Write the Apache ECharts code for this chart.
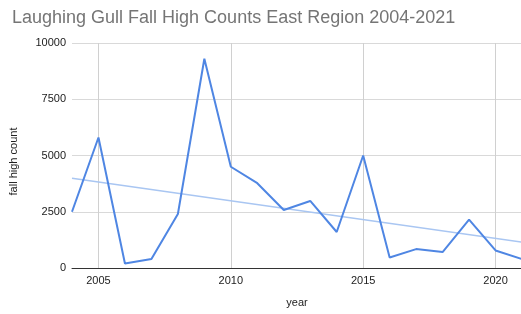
<!DOCTYPE html>
<html><head><meta charset="utf-8">
<script src="https://cdn.jsdelivr.net/npm/echarts@6/dist/echarts.min.js"></script>
<style>html,body{margin:0;padding:0;background:#fff}#c{width:521px;height:314px}</style>
</head><body><div id="c"></div>
<script>
const years = ['2004','2005','2006','2007','2008','2009','2010','2011','2012','2013','2014','2015','2016','2017','2018','2019','2020','2021'];
const highCounts = [2500,5800,200,400,2400,9300,4500,3770,2580,2980,1600,5000,470,840,710,2150,780,400];
const trendEnds = [3990,1150];
const yTicks = [0,2500,5000,7500,10000];
const labeledYears = ['2005','2010','2015','2020'];

const trendData = years.map((y,i)=> (i===0 ? trendEnds[0] : (i===years.length-1 ? trendEnds[1] : '-')));

const chart = echarts.init(document.getElementById('c'));
const font = 'Arial, "Liberation Sans", sans-serif';
chart.setOption({
  animation:false,
  textStyle:{fontFamily:font},
  title:{text:'Laughing Gull Fall High Counts East Region 2004-2021',left:7,top:4,
    textStyle:{fontSize:18,fontWeight:'normal',color:'#757575',fontFamily:font}},
  grid:{left:72,right:-1,top:43,bottom:46,containLabel:false,outerBoundsMode:'none'},
  xAxis:{type:'category',data:years,boundaryGap:false,
    name:'year',nameLocation:'middle',nameGap:29,
    nameTextStyle:{fontSize:11,color:'#222'},
    axisLine:{lineStyle:{color:'#333',width:1}},
    axisTick:{show:false},
    axisLabel:{interval:(i,v)=>labeledYears.includes(v),color:'#222',fontSize:11,margin:7},
    splitLine:{show:true,interval:(i,v)=>labeledYears.includes(v),lineStyle:{color:'#d0d0d0'}}},
  yAxis:{type:'value',min:yTicks[0],max:yTicks[yTicks.length-1],interval:2500,
    name:'fall high count',nameLocation:'middle',nameGap:53,
    nameTextStyle:{fontSize:11,color:'#222',padding:[0,12,0,0]},
    axisLine:{show:false},axisTick:{show:false},
    axisLabel:{color:'#222',fontSize:11,margin:6,formatter:v=>String(v)},
    splitLine:{lineStyle:{color:'#d9d9d9'}}},
  series:[
    {type:'line',data:trendData,connectNulls:true,symbol:'none',
      lineStyle:{color:'#a9c6f2',width:1.5},z:1},
    {type:'line',data:highCounts,symbol:'none',
      lineStyle:{color:'#4f86e3',width:2},z:2}
  ]
});
</script></body></html>
